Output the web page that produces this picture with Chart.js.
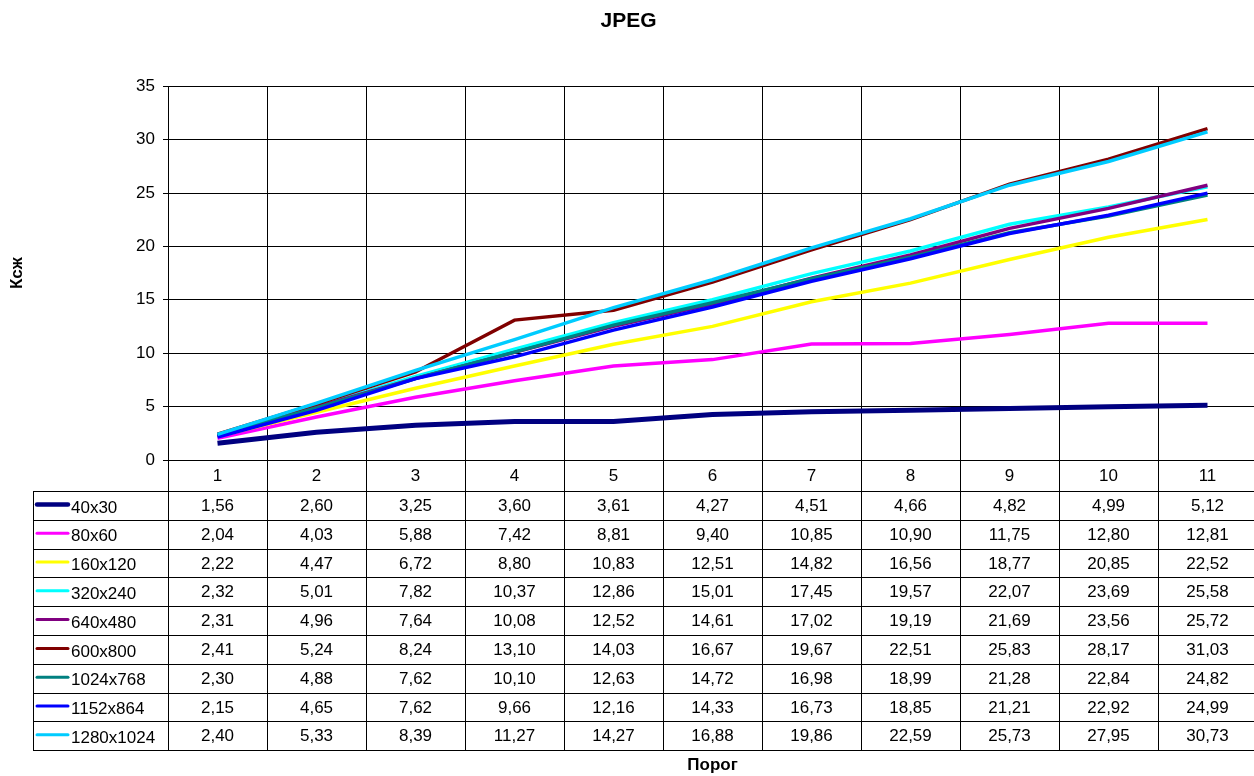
<!DOCTYPE html>
<html>
<head>
<meta charset="utf-8">
<script src="https://cdn.jsdelivr.net/npm/chart.js@4/dist/chart.umd.min.js"></script>
<style>
html,body{margin:0;padding:0;background:#fff;overflow:hidden;}
#wrap{width:1254px;height:776px;overflow:hidden;}
</style>
</head>
<body>
<div id="wrap"><canvas id="c" width="1257" height="776"></canvas></div>
<script>
const categories = ['1','2','3','4','5','6','7','8','9','10','11'];
const seriesNames = ['40x30','80x60','160x120','320x240','640x480','600x800','1024x768','1152x864','1280x1024'];
const s40x30     = [1.56, 2.60, 3.25, 3.60, 3.61, 4.27, 4.51, 4.66, 4.82, 4.99, 5.12];
const s80x60     = [2.04, 4.03, 5.88, 7.42, 8.81, 9.40, 10.85, 10.90, 11.75, 12.80, 12.81];
const s160x120   = [2.22, 4.47, 6.72, 8.80, 10.83, 12.51, 14.82, 16.56, 18.77, 20.85, 22.52];
const s320x240   = [2.32, 5.01, 7.82, 10.37, 12.86, 15.01, 17.45, 19.57, 22.07, 23.69, 25.58];
const s640x480   = [2.31, 4.96, 7.64, 10.08, 12.52, 14.61, 17.02, 19.19, 21.69, 23.56, 25.72];
const s600x800   = [2.41, 5.24, 8.24, 13.10, 14.03, 16.67, 19.67, 22.51, 25.83, 28.17, 31.03];
const s1024x768  = [2.30, 4.88, 7.62, 10.10, 12.63, 14.72, 16.98, 18.99, 21.28, 22.84, 24.82];
const s1152x864  = [2.15, 4.65, 7.62, 9.66, 12.16, 14.33, 16.73, 18.85, 21.21, 22.92, 24.99];
const s1280x1024 = [2.40, 5.33, 8.39, 11.27, 14.27, 16.88, 19.86, 22.59, 25.73, 27.95, 30.73];
const yTicks = [0, 5, 10, 15, 20, 25, 30, 35];

const seriesData = [s40x30, s80x60, s160x120, s320x240, s640x480, s600x800, s1024x768, s1152x864, s1280x1024];
const colors = ['#000080','#FF00FF','#FFFF00','#00FFFF','#800080','#800000','#008080','#0000FF','#00CCFF'];
const widths = [5, 3.5, 3.5, 3.5, 3.5, 3.5, 3.5, 3.5, 3.5];

const FONT = '"Liberation Sans", Arial, sans-serif';

const datasets = seriesData.map((d, i) => ({
  label: seriesNames[i],
  data: d,
  borderColor: colors[i],
  backgroundColor: colors[i],
  borderWidth: widths[i],
  pointRadius: 0,
  tension: 0,
  fill: false,
  order: seriesData.length - i
}));

const TABLE_LEFT = 33;
const TABLE_TOP = 491;
const ROW_H = 28.8;

const tablePlugin = {
  id: 'dataTable',
  afterDraw(chart) {
    const ctx = chart.ctx;
    const x = chart.scales.x;
    const area = chart.chartArea;
    const n = categories.length;
    const colW = (x.getPixelForValue(1) - x.getPixelForValue(0));
    const nRows = seriesData.length;
    const bottom = TABLE_TOP + ROW_H * nRows;
    ctx.save();
    ctx.strokeStyle = '#000';
    ctx.lineWidth = 1;
    for (let i = 0; i <= n; i++) {
      const px = Math.round(x.getPixelForValue(0) - colW / 2 + i * colW) + 0.5;
      ctx.beginPath();
      ctx.moveTo(px, area.bottom);
      ctx.lineTo(px, bottom);
      ctx.stroke();
    }
    ctx.beginPath();
    ctx.moveTo(TABLE_LEFT + 0.5, TABLE_TOP);
    ctx.lineTo(TABLE_LEFT + 0.5, bottom);
    ctx.stroke();
    for (let r = 0; r <= nRows; r++) {
      const py = Math.round(TABLE_TOP + r * ROW_H) + 0.5;
      ctx.beginPath();
      ctx.moveTo(TABLE_LEFT, py);
      ctx.lineTo(chart.width, py);
      ctx.stroke();
    }
    ctx.font = '17px ' + FONT;
    ctx.fillStyle = '#000';
    ctx.textBaseline = 'middle';
    for (let r = 0; r < nRows; r++) {
      const cy = TABLE_TOP + r * ROW_H + ROW_H / 2 + 1;
      ctx.strokeStyle = colors[r];
      ctx.lineWidth = widths[r] - 0.5;
      ctx.lineCap = 'round';
      ctx.beginPath();
      ctx.moveTo(37, cy - 2);
      ctx.lineTo(68, cy - 2);
      ctx.stroke();
      ctx.textAlign = 'left';
      ctx.fillText(seriesNames[r], 71, cy + 1.5);
      ctx.textAlign = 'center';
      for (let c = 0; c < n; c++) {
        const v = seriesData[r][c];
        ctx.fillText(v.toFixed(2).replace('.', ','), x.getPixelForValue(c), cy);
      }
    }
    ctx.restore();
  }
};

new Chart(document.getElementById('c'), {
  type: 'line',
  data: { labels: categories, datasets },
  options: {
    responsive: false,
    animation: false,
    devicePixelRatio: 1,
    layout: { padding: { left: 0, right: 0, top: 0, bottom: 0 } },
    plugins: {
      legend: { display: false },
      tooltip: { enabled: false },
      title: {
        display: true,
        text: 'JPEG',
        color: '#000',
        font: { family: FONT, size: 21, weight: 'bold' },
        padding: { top: 9, bottom: 52 }
      }
    },
    scales: {
      x: {
        type: 'category',
        offset: true,
        grid: { offset: true, color: '#000', lineWidth: 1, drawTicks: false },
        border: { color: '#000' },
        ticks: { color: '#000', font: { family: FONT, size: 17 }, padding: 6, maxRotation: 0, autoSkip: false },
        title: { display: true, text: 'Порог', color: '#000', font: { family: FONT, size: 17, weight: 'bold' }, padding: { top: 0, bottom: 0 } },
        afterFit(scale) { scale.height = 316; }
      },
      y: {
        min: 0,
        max: 35,
        afterBuildTicks(scale) { scale.ticks = yTicks.map(v => ({ value: v })); },
        grid: { color: '#000', lineWidth: 1, tickLength: 5 },
        border: { color: '#000' },
        ticks: { color: '#000', font: { family: FONT, size: 17 }, padding: 8 },
        title: { display: true, text: 'Ксж', color: '#000', font: { family: FONT, size: 17, weight: 'bold' }, padding: { top: 7, bottom: 0 } },
        afterFit(scale) { scale.width = 168; }
      }
    }
  },
  plugins: [tablePlugin]
});
</script>
</body>
</html>
